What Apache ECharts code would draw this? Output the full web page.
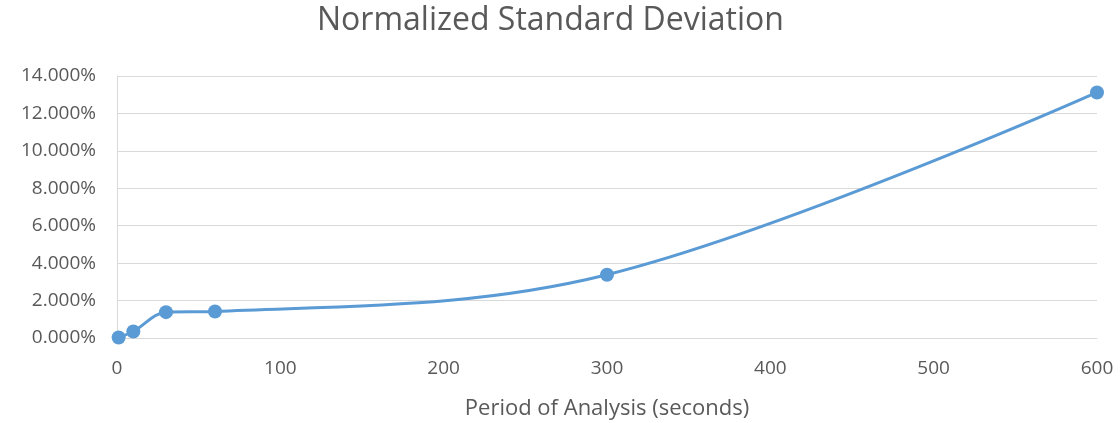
<!DOCTYPE html>
<html><head><meta charset="utf-8">
<script src="https://cdn.jsdelivr.net/npm/echarts@6/dist/echarts.min.js"></script>
<style>html,body{margin:0;padding:0;background:#fff}#c{width:1120px;height:423px}</style>
</head><body><div id="c"></div>
<script>
const periods = [1, 10, 30, 60, 300, 600];
const stdDev = [0.03, 0.35, 1.38, 1.42, 3.38, 13.12];
const xTicks = [0, 100, 200, 300, 400, 500, 600];

const chart = echarts.init(document.getElementById('c'));
chart.setOption({
  animation: false,
  title: { text: 'Normalized Standard Deviation', left: 312, top: 0,
    textStyle: { fontFamily: 'Open Sans', fontWeight: 'normal', fontSize: 32, color: '#595959' } },
  grid: { left: 117, right: 23, top: 76, bottom: 85, outerBoundsMode: 'none', containLabel: false },
  xAxis: { type: 'value', min: 0, max: 600, interval: 100,
    name: 'Period of Analysis (seconds)', nameLocation: 'middle', nameGap: 60,
    nameTextStyle: { fontFamily: 'Open Sans', fontSize: 22, color: '#595959' },
    axisLine: { show: true, lineStyle: { color: '#d9d9d9' } }, axisTick: { show: false },
    splitLine: { show: false },
    axisLabel: { fontFamily: 'Open Sans', fontSize: 19, color: '#595959', margin: 21,
      formatter: v => xTicks.includes(v) ? String(v) : '' } },
  yAxis: { type: 'value', min: 0, max: 14, interval: 2,
    axisLine: { show: true, lineStyle: { color: '#d9d9d9' } }, axisTick: { show: false },
    splitLine: { lineStyle: { color: '#d9d9d9', width: 1 } },
    axisLabel: { fontFamily: 'Open Sans', fontSize: 19, color: '#595959', margin: 21,
      formatter: v => v.toFixed(3) + '%' } },
  series: [{ type: 'line', smooth: 0.35,
    data: periods.map((p, i) => [p, stdDev[i]]),
    symbol: 'circle', symbolSize: 14,
    lineStyle: { color: '#5B9BD5', width: 3 },
    itemStyle: { color: '#5B9BD5' } }]
});
</script></body></html>
